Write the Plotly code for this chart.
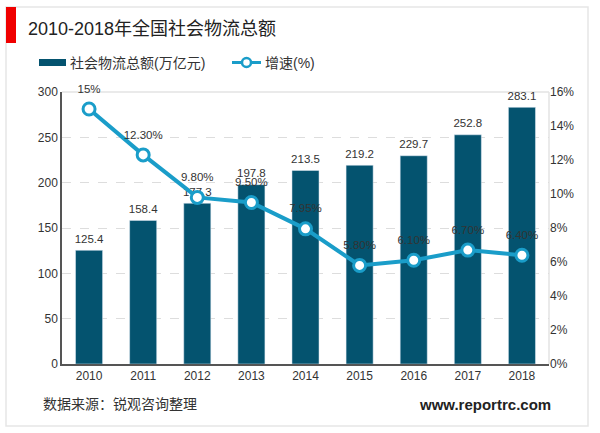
import plotly.graph_objects as go

years = ["2010", "2011", "2012", "2013", "2014", "2015", "2016", "2017", "2018"]
total = [125.4, 158.4, 177.3, 197.8, 213.5, 219.2, 229.7, 252.8, 283.1]
growth = [15, 12.3, 9.8, 9.5, 7.95, 5.8, 6.1, 6.7, 6.4]
total_labels = ["125.4", "158.4", "177.3", "197.8", "213.5", "219.2", "229.7", "252.8", "283.1"]
growth_labels = ["15%", "12.30%", "9.80%", "9.50%", "7.95%", "5.80%", "6.10%", "6.70%", "6.40%"]
left_ticks = [0, 50, 100, 150, 200, 250, 300]
right_ticks = [0, 2, 4, 6, 8, 10, 12, 14, 16]
right_labels = ["0%", "2%", "4%", "6%", "8%", "10%", "12%", "14%", "16%"]

FONT = "Liberation Sans, Noto Sans CJK SC"
TEXT = "#333333"
BAR = "#04536f"
LINE = "#1a9dc9"

# plot area in pixels, used to place the frame, legend and notes
W, H = 600, 433
L, R, T, B = 62, 549, 92, 364


def px(x):
    return (x - L) / (R - L)


def py(y):
    return (B - y) / (B - T)


fig = go.Figure()

# bars
fig.add_trace(go.Bar(x=years, y=total, width=0.5, marker=dict(color=BAR)))

# bar labels, hidden markers set the gap above the bars
fig.add_trace(go.Scatter(
    x=years, y=total, mode="markers+text",
    marker=dict(size=6, opacity=0),
    text=total_labels, textposition="top center", cliponaxis=False,
    textfont=dict(size=11.5, color=TEXT),
))

# growth line
fig.add_trace(go.Scatter(
    x=years, y=growth, mode="lines+markers", yaxis="y2",
    line=dict(color=LINE, width=4),
    marker=dict(size=12, color="white", line=dict(color=LINE, width=3)),
))

# growth labels, hidden markers push them further above the points
fig.add_trace(go.Scatter(
    x=years, y=growth, mode="markers+text", yaxis="y2",
    marker=dict(size=20, opacity=0),
    text=growth_labels, textposition="top center", cliponaxis=False,
    textfont=dict(size=11.5, color=TEXT),
))

fig.update_layout(
    width=W, height=H,
    margin=dict(l=L, r=W - R, t=T, b=H - B),
    paper_bgcolor="white", plot_bgcolor="white",
    font=dict(family=FONT, size=12, color=TEXT),
    title=dict(text="2010-2018年全国社会物流总额", x=28 / W, xanchor="left",
               y=1 - 29 / H, yanchor="middle", font=dict(size=18, color="#222222")),
    showlegend=False,
    xaxis=dict(type="category", range=[-0.5, 8.5], showline=True, linecolor="#555555",
               linewidth=1.5, ticks="", tickfont=dict(size=12)),
    yaxis=dict(range=[0, 300], tickvals=left_ticks, showgrid=True, gridcolor="#dddddd",
               griddash="dash", gridwidth=1, showline=True, linecolor="#555555",
               linewidth=1.5, zeroline=False, ticks="", tickfont=dict(size=12)),
    yaxis2=dict(range=[0, 16], tickvals=right_ticks, ticktext=right_labels, overlaying="y",
                side="right", showgrid=False, zeroline=False, showline=False, ticks="",
                tickfont=dict(size=12)),
    shapes=[
        # outer frame
        dict(type="rect", xref="paper", yref="paper", x0=px(6), x1=px(588),
             y0=py(426), y1=py(7), line=dict(color="#e6e6e6", width=1.5), layer="below"),
        # red block next to the title
        dict(type="rect", xref="paper", yref="paper", x0=px(6), x1=px(16),
             y0=py(43), y1=py(7), fillcolor="#f00000", line_width=0),
        # plot frame top and right
        dict(type="line", xref="paper", yref="paper", x0=0, x1=1, y0=1, y1=1,
             line=dict(color="#e3e3e3", width=1.5), layer="below"),
        dict(type="line", xref="paper", yref="paper", x0=1, x1=1, y0=0, y1=1,
             line=dict(color="#e3e3e3", width=1.5), layer="below"),
        # legend keys
        dict(type="rect", xref="paper", yref="paper", x0=px(39), x1=px(66),
             y0=py(66), y1=py(59), fillcolor=BAR, line_width=0),
        dict(type="line", xref="paper", yref="paper", x0=px(232), x1=px(261),
             y0=py(62.5), y1=py(62.5), line=dict(color=LINE, width=3)),
        dict(type="circle", xref="paper", yref="paper", x0=px(242), x1=px(251),
             y0=py(67), y1=py(58), fillcolor="white", line=dict(color=LINE, width=2.5)),
    ],
    annotations=[
        dict(text="社会物流总额(万亿元)", xref="paper", yref="paper", x=px(68), y=py(63),
             xanchor="left", yanchor="middle", showarrow=False, font=dict(size=14, color=TEXT)),
        dict(text="增速(%)", xref="paper", yref="paper", x=px(263), y=py(63),
             xanchor="left", yanchor="middle", showarrow=False, font=dict(size=14, color=TEXT)),
        dict(text="数据来源：锐观咨询整理", xref="paper", yref="paper", x=px(41), y=py(404),
             xanchor="left", yanchor="middle", showarrow=False, font=dict(size=14, color=TEXT)),
        dict(text="<b>www.reportrc.com</b>", xref="paper", yref="paper", x=px(553), y=py(404),
             xanchor="right", yanchor="middle", showarrow=False,
             font=dict(size=15, color="#222222", family="Liberation Sans")),
    ],
)

fig.write_html("out.html", config=dict(displayModeBar=False),
               post_script="document.body.style.margin='0';")
